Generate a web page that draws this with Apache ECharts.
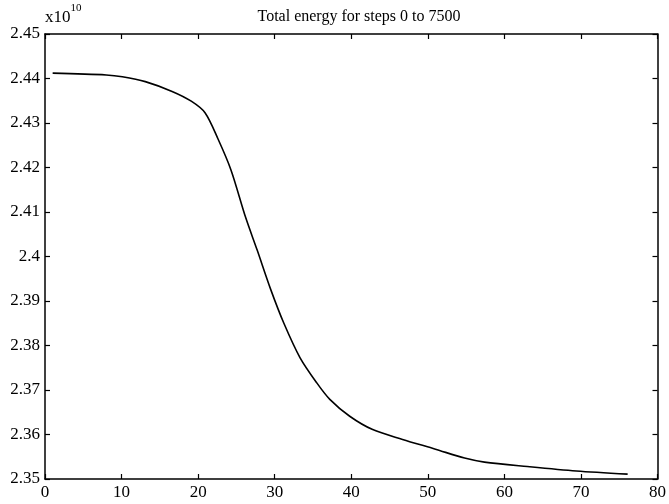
<!DOCTYPE html>
<html>
<head>
<meta charset="utf-8">
<script src="https://cdn.jsdelivr.net/npm/echarts@6/dist/echarts.min.js"></script>
<style>
html,body{margin:0;padding:0;background:#fff;}
#c{width:669px;height:504px;}
</style>
</head>
<body>
<div id="c"></div>
<script>
var titleText = 'Total energy for steps 0 to 7500';
var xValues = [1.0, 8.0, 10.1, 13.1, 16.6, 19.1, 20.9, 22.6, 24.3, 26.2, 27.7, 29.5, 31.2, 33.3, 35.5, 37.2, 39.8, 42.8, 46.7, 51.0, 54.8, 57.4, 63.0, 69.4, 76.1];
var energyValues = [2.4412, 2.4408, 2.4404, 2.4393, 2.4371, 2.4349, 2.4323, 2.4264, 2.4194, 2.4088, 2.4015, 2.3925, 2.3850, 2.3773, 2.3716, 2.3679, 2.3641, 2.3611, 2.3589, 2.3567, 2.3547, 2.3538, 2.3528, 2.3518, 2.3511];
var xTicks = {min: 0, max: 80, interval: 10};
var yTicks = {min: 2.35, max: 2.45, interval: 0.01};

var data = xValues.map(function (x, i) { return [x, energyValues[i]]; });
var font = 'Liberation Serif';
var chart = echarts.init(document.getElementById('c'), null, {renderer: 'canvas'});
var axisCommon = {
  axisLine: {show: true, onZero: false, lineStyle: {color: '#000', width: 1.5}},
  axisTick: {show: true, inside: true, length: 5, lineStyle: {color: '#000', width: 1.2}},
  splitLine: {show: false}
};
chart.setOption({
  animation: false,
  backgroundColor: '#fff',
  title: {
    text: titleText, left: 354, top: 4, textAlign: 'center',
    textStyle: {fontFamily: font, fontSize: 16, fontWeight: 'normal', color: '#000'}
  },
  graphic: [{
    type: 'text', left: 45, top: 3,
    style: {
      text: '{b|x10}{s|10}',
      rich: {
        b: {fontFamily: font, fontSize: 17, fill: '#000', verticalAlign: 'bottom', padding: [6, 0, 0, 0]},
        s: {fontFamily: font, fontSize: 11, fill: '#000', verticalAlign: 'top'}
      }
    }
  }],
  grid: {left: 45, right: 4, top: 34, bottom: 25, containLabel: false},
  xAxis: [
    Object.assign({
      type: 'value', min: xTicks.min, max: xTicks.max, interval: xTicks.interval, position: 'bottom',
      axisLabel: {fontFamily: font, fontSize: 17, color: '#000', margin: 5}
    }, axisCommon),
    Object.assign({
      type: 'value', min: xTicks.min, max: xTicks.max, interval: xTicks.interval, position: 'top',
      axisLabel: {show: false}
    }, axisCommon)
  ],
  yAxis: [
    Object.assign({
      type: 'value', min: yTicks.min, max: yTicks.max, interval: yTicks.interval, position: 'left',
      axisLabel: {fontFamily: font, fontSize: 17, color: '#000', margin: 5,
        formatter: function (v) { return String(+v.toFixed(2)); }}
    }, axisCommon),
    Object.assign({
      type: 'value', min: yTicks.min, max: yTicks.max, interval: yTicks.interval, position: 'right',
      axisLabel: {show: false}
    }, axisCommon)
  ],
  series: [{
    type: 'line', data: data, smooth: 0.3, showSymbol: false, symbol: 'none',
    xAxisIndex: 0, yAxisIndex: 0,
    lineStyle: {color: '#000', width: 1.6}
  }]
});
</script>
</body>
</html>
